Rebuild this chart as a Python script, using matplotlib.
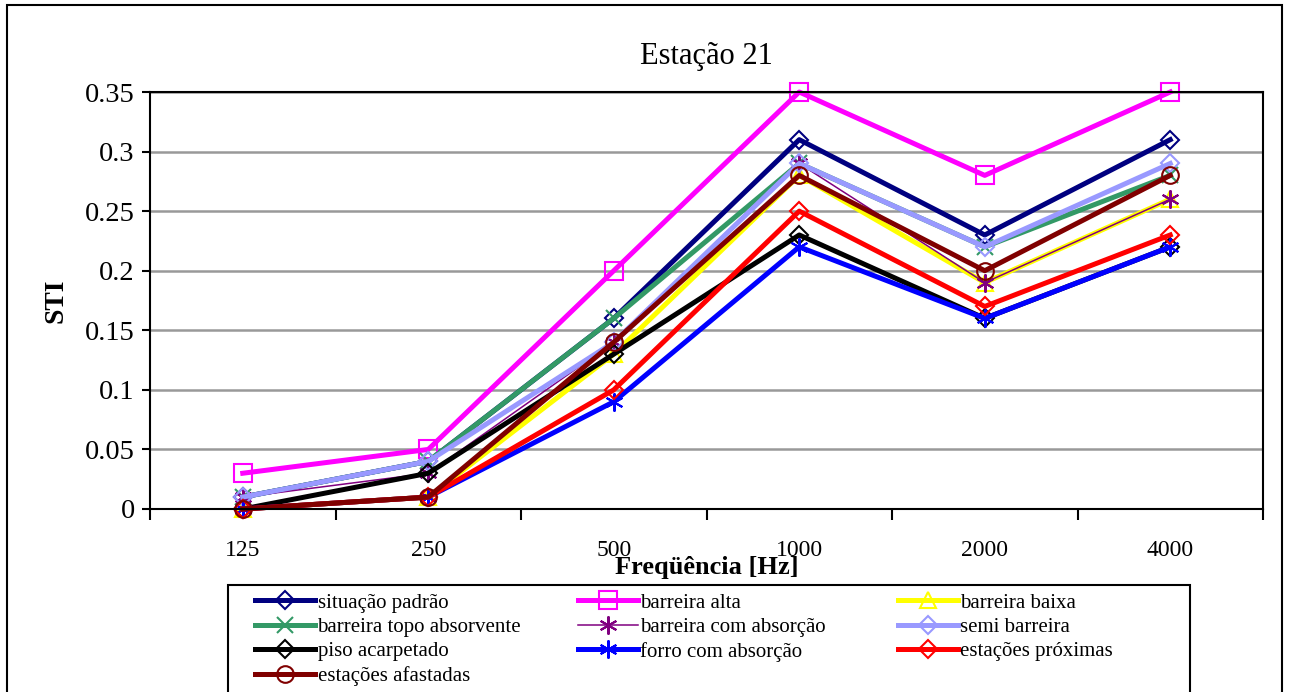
import matplotlib.pyplot as plt
from matplotlib.patches import Rectangle

# frequencies (categories) and STI values per configuration
freqs = ['125', '250', '500', '1000', '2000', '4000']

situacao_padrao = [0.01, 0.04, 0.16, 0.31, 0.23, 0.31]
barreira_alta = [0.03, 0.05, 0.20, 0.35, 0.28, 0.35]
barreira_baixa = [0.00, 0.01, 0.13, 0.28, 0.19, 0.26]
topo_absorvente = [0.01, 0.04, 0.16, 0.29, 0.22, 0.28]
com_absorcao = [0.01, 0.03, 0.14, 0.29, 0.19, 0.26]
semi_barreira = [0.01, 0.04, 0.14, 0.29, 0.22, 0.29]
piso_acarpetado = [0.00, 0.03, 0.13, 0.23, 0.16, 0.22]
forro_absorcao = [0.00, 0.01, 0.09, 0.22, 0.16, 0.22]
estacoes_proximas = [0.00, 0.01, 0.10, 0.25, 0.17, 0.23]
estacoes_afastadas = [0.00, 0.01, 0.14, 0.28, 0.20, 0.28]

labels = ['situação padrão', 'barreira alta', 'barreira baixa',
          'barreira topo absorvente', 'barreira com absorção', 'semi barreira',
          'piso acarpetado', 'forro com absorção', 'estações próximas',
          'estações afastadas']
series = [situacao_padrao, barreira_alta, barreira_baixa, topo_absorvente,
          com_absorcao, semi_barreira, piso_acarpetado, forro_absorcao,
          estacoes_proximas, estacoes_afastadas]
colors = ['#000080', '#FF00FF', '#FFFF00', '#339966', '#800080', '#9999FF',
          '#000000', '#0000FF', '#FF0000', '#800000']
asterisk = (6, 2, 0)
markers = ['D', 's', '^', 'x', asterisk, 'D', 'D', asterisk, 'D', 'o']
msizes = [9, 13, 11, 12, 13, 9, 9, 13, 9, 12]
widths = [3.6, 3.6, 3.6, 3.6, 1.1, 3.6, 3.6, 3.6, 3.6, 3.6]

plt.rcParams['font.family'] = ['Liberation Serif', 'DejaVu Serif']

fig = plt.figure(figsize=(12.89, 6.92), dpi=100)
ax = fig.add_axes([150 / 1289, 1 - 509 / 692, (1263 - 150) / 1289, (509 - 92) / 692])

x = list(range(len(freqs)))
handles = []
for vals, lab, c, m, ms, lw in zip(series, labels, colors, markers, msizes, widths):
    h, = ax.plot(x, vals, color=c, lw=lw, marker=m, markersize=ms,
                 markerfacecolor='none', markeredgecolor=c, markeredgewidth=1.5,
                 label=lab, clip_on=False)
    handles.append(h)

ax.set_xlim(-0.5, 5.5)
ax.set_ylim(0, 0.35)
ax.set_yticks([0, 0.05, 0.1, 0.15, 0.2, 0.25, 0.3, 0.35])
ax.set_yticklabels(['0', '0.05', '0.1', '0.15', '0.2', '0.25', '0.3', '0.35'])
ax.set_xticks(x)
ax.set_xticklabels(freqs)
ax.set_xticks([i - 0.5 for i in range(7)], minor=True)
ax.tick_params(axis='x', which='major', length=0, labelsize=17, pad=22)
ax.tick_params(axis='x', which='minor', length=8, width=1.5, direction='out')
ax.tick_params(axis='y', length=6, width=1.5, labelsize=20.5, pad=5)
ax.grid(axis='y', color='#999999', lw=1.8)
ax.set_axisbelow(True)
for s in ax.spines.values():
    s.set_linewidth(1.5)

ax.set_title('Estação 21', fontsize=22, pad=20)
ax.set_xlabel('Freqüência [Hz]', fontsize=19, fontweight='bold', labelpad=-3)
ax.set_ylabel('STI', fontsize=20, fontweight='bold', labelpad=12)

# legend box drawn separately (Excel style: wide side padding)
fig.patches.append(Rectangle((228 / 1289, -0.05), (1190 - 228) / 1289, 0.05 + 1 - 585 / 692,
                             transform=fig.transFigure, fill=False,
                             edgecolor='black', lw=1.5))

# Excel lays the legend out row-wise in equal-width columns:
# one single-column legend per column
col_x = [255, 578, 898]
for k in range(3):
    idx = list(range(k, len(labels), 3))
    fig.legend([handles[i] for i in idx], [labels[i] for i in idx],
               loc='upper left', bbox_to_anchor=(col_x[k] / 1289, 1 - 593 / 692),
               fontsize=15, frameon=False, borderpad=0, borderaxespad=0,
               handlelength=2.9, handletextpad=0.1, labelspacing=0.23)

fig.patches.append(Rectangle((7 / 1289, -0.05), (1282 - 7) / 1289, 1.05 - 5 / 692,
                             transform=fig.transFigure, fill=False,
                             edgecolor='black', lw=1.5))

fig.savefig('out.png', dpi=100)
